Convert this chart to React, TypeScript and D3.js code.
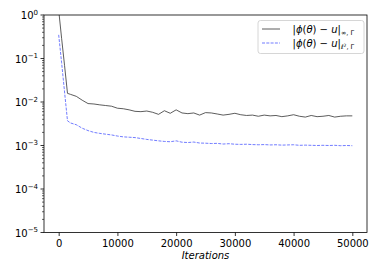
import React, { useEffect, useRef } from 'react';
import * as d3 from 'd3';

const width = 382;
const height = 273;
const margin = { top: 15, right: 15, bottom: 40.5, left: 44 };

const iterations = [
  0, 500, 1000, 1500, 2000, 3000, 4000, 5000, 6000, 7000, 8000, 9000, 10000,
  11000, 12000, 13000, 14000, 15000, 16000, 17000, 18000, 19000, 20000, 21000,
  22000, 23000, 24000, 25000, 26000, 27000, 28000, 29000, 30000, 31000, 32000,
  33000, 34000, 35000, 36000, 37000, 38000, 39000, 40000, 41000, 42000, 43000,
  44000, 45000, 46000, 47000, 48000, 49000, 50000,
];

const errInf = [
  1.3, 0.29, 0.069, 0.0158, 0.015, 0.0135, 0.011, 0.0092, 0.009, 0.0086,
  0.0083, 0.008, 0.0072, 0.007, 0.0066, 0.0061, 0.006, 0.0062, 0.0058, 0.0052,
  0.0063, 0.0055, 0.0066, 0.0056, 0.0054, 0.0056, 0.005, 0.0057, 0.0056,
  0.0053, 0.005, 0.0052, 0.0055, 0.0051, 0.0049, 0.005, 0.0047, 0.005, 0.0048,
  0.0049, 0.0046, 0.0048, 0.0051, 0.0047, 0.0045, 0.0049, 0.0046, 0.0047,
  0.0049, 0.0045, 0.0047, 0.0048, 0.0048,
];

const errL2 = [
  0.35, 0.08, 0.017, 0.0037, 0.0033, 0.003, 0.0025, 0.0022, 0.002, 0.0019,
  0.00182, 0.00175, 0.00165, 0.00158, 0.00155, 0.00152, 0.00145, 0.00138,
  0.00133, 0.00128, 0.00124, 0.00122, 0.00128, 0.00119, 0.00117, 0.0012,
  0.00114, 0.00113, 0.00111, 0.00112, 0.00108, 0.0011, 0.00107, 0.00106,
  0.00107, 0.00105, 0.00104, 0.00105, 0.00103, 0.00104, 0.00102, 0.00103,
  0.00104, 0.00101, 0.00102, 0.00101, 0.001, 0.00101, 0.001, 0.00101,
  0.00099, 0.001, 0.00099,
];

const xTicks = [0, 10000, 20000, 30000, 40000, 50000];
const yExponents = [0, -1, -2, -3, -4, -5];

const font = '"DejaVu Sans", sans-serif';

export default function App(): JSX.Element {
  const container = useRef<SVGSVGElement>(null);

  useEffect(() => {
    const svg = d3.select(container.current);
    svg.selectAll('*').remove();

    const x = d3
      .scaleLinear()
      .domain([-2500, 52500])
      .range([margin.left, width - margin.right]);
    const y = d3
      .scaleLog()
      .domain([1e-5, 1])
      .range([height - margin.bottom, margin.top]);

    // clip
    svg
      .append('clipPath')
      .attr('id', 'plot-clip')
      .append('rect')
      .attr('x', margin.left)
      .attr('y', margin.top)
      .attr('width', width - margin.left - margin.right)
      .attr('height', height - margin.top - margin.bottom);

    // x axis
    const xAxis = svg
      .append('g')
      .attr('transform', 'translate(0,' + (height - margin.bottom) + ')')
      .call(
        d3
          .axisBottom(x)
          .tickValues(xTicks)
          .tickFormat((d) => String(d))
          .tickSize(3.5)
          .tickPadding(3.5)
      );
    xAxis.select('.domain').remove();
    xAxis
      .selectAll('text')
      .attr('font-family', font)
      .attr('font-size', 10)
      .attr('fill', '#000');
    xAxis.selectAll('line').attr('stroke', '#000').attr('stroke-width', 0.8);

    // y axis: minor ticks
    const minors: number[] = [];
    for (let e = -5; e < 0; e++) {
      for (let m = 2; m <= 9; m++) minors.push(m * Math.pow(10, e));
    }
    svg
      .append('g')
      .selectAll('line')
      .data(minors)
      .join('line')
      .attr('x1', margin.left - 2)
      .attr('x2', margin.left)
      .attr('y1', (d) => y(d))
      .attr('y2', (d) => y(d))
      .attr('stroke', '#000')
      .attr('stroke-width', 0.6);

    const yg = svg.append('g');
    yg.selectAll('line')
      .data(yExponents)
      .join('line')
      .attr('x1', margin.left - 3.5)
      .attr('x2', margin.left)
      .attr('y1', (d) => y(Math.pow(10, d)))
      .attr('y2', (d) => y(Math.pow(10, d)))
      .attr('stroke', '#000')
      .attr('stroke-width', 0.8);
    const labels = yg
      .selectAll('text')
      .data(yExponents)
      .join('text')
      .attr('x', margin.left - 6)
      .attr('y', (d) => y(Math.pow(10, d)) + 4)
      .attr('text-anchor', 'end')
      .attr('font-family', font)
      .attr('font-size', 10)
      .attr('fill', '#000');
    labels.append('tspan').text('10');
    labels
      .append('tspan')
      .attr('dy', -4.5)
      .attr('font-size', 7)
      .text((d) => (d === 0 ? '0' : '\u2212' + Math.abs(d)));

    // lines
    const line = d3
      .line<number>()
      .x((_, i) => x(iterations[i]))
      .y((d) => y(d));

    const plot = svg.append('g').attr('clip-path', 'url(#plot-clip)');
    plot
      .append('path')
      .attr('d', line(errInf) || '')
      .attr('fill', 'none')
      .attr('stroke', '#333')
      .attr('stroke-width', 0.8);
    plot
      .append('path')
      .attr('d', line(errL2) || '')
      .attr('fill', 'none')
      .attr('stroke', '#3344ff')
      .attr('stroke-width', 0.7)
      .attr('stroke-dasharray', '3,1.3');

    // frame
    svg
      .append('rect')
      .attr('x', margin.left)
      .attr('y', margin.top)
      .attr('width', width - margin.left - margin.right)
      .attr('height', height - margin.top - margin.bottom)
      .attr('fill', 'none')
      .attr('stroke', '#000')
      .attr('stroke-width', 0.8);

    // x label
    svg
      .append('text')
      .attr('x', x(25000))
      .attr('y', height - 14)
      .attr('text-anchor', 'middle')
      .attr('font-family', font)
      .attr('font-size', 10)
      .attr('font-style', 'italic')
      .text('Iterations');

    // legend
    const lg = svg.append('g').attr('transform', 'translate(258,20.5)');
    lg.append('rect')
      .attr('width', 106)
      .attr('height', 33)
      .attr('rx', 2.5)
      .attr('fill', '#fff')
      .attr('fill-opacity', 0.8)
      .attr('stroke', '#ccc')
      .attr('stroke-width', 0.8);

    const entries = [
      { color: '#333', dash: null },
      { color: '#3344ff', dash: '3,1.3' },
    ];
    entries.forEach((e, i) => {
      const cy = 8.5 + i * 14;
      lg.append('line')
        .attr('x1', 4)
        .attr('x2', 22)
        .attr('y1', cy)
        .attr('y2', cy)
        .attr('stroke', e.color)
        .attr('stroke-width', i === 0 ? 0.8 : 0.7)
        .attr('stroke-dasharray', e.dash);
      const t = lg
        .append('text')
        .attr('x', 34.5)
        .attr('y', cy + 3.5)
        .attr('font-family', font)
        .attr('font-size', 10)
        .attr('fill', '#000');
      t.append('tspan').text('|');
      t.append('tspan').attr('font-style', 'italic').text('\u03d5');
      t.append('tspan').text('(');
      t.append('tspan').attr('font-style', 'italic').text('\u03b8');
      t.append('tspan').text(') \u2212 ');
      t.append('tspan').attr('font-style', 'italic').text('u');
      t.append('tspan').text('|');
      if (i === 0) {
        t.append('tspan')
          .attr('dy', 2.5)
          .attr('font-size', 6.5)
          .text('\u221e, \u0393');
      } else {
        t.append('tspan')
          .attr('dy', 2.5)
          .attr('font-size', 6.5)
          .attr('font-style', 'italic')
          .text('\u2113');
        t.append('tspan')
          .attr('dy', -2.5)
          .attr('font-size', 4.5)
          .text('2');
        t.append('tspan')
          .attr('dy', 2.5)
          .attr('font-size', 6.5)
          .text(', \u0393');
      }
    });
  }, []);

  return (
    <svg
      ref={container}
      width={width}
      height={height}
      style={{ position: 'absolute', left: 0, top: 0, background: '#fff' }}
    />
  );
}
